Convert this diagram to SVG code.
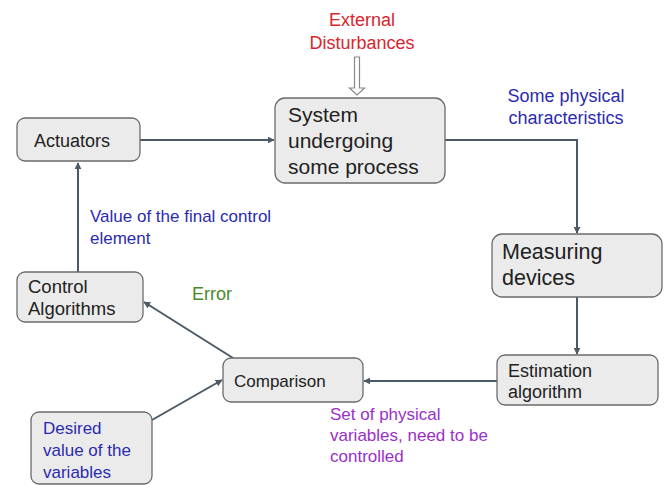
<svg xmlns="http://www.w3.org/2000/svg" width="665" height="485" viewBox="0 0 665 485">
<style>
.box{fill:#ebebeb;stroke:#6b6b6b;stroke-width:1.3}
.t{font-family:"Liberation Sans",Arial,sans-serif;fill:#222}
.c{stroke:#4c5966;stroke-width:2;fill:none;marker-end:url(#ah)}
.blue{fill:#2b2bb0}
</style>
<defs>
<marker id="ah" viewBox="0 0 10 10" refX="9" refY="5" markerWidth="7" markerHeight="7" markerUnits="userSpaceOnUse" orient="auto"><path d="M0,0 L10,5 L0,10 z" fill="#4c5966"/></marker>
</defs>
<rect width="665" height="485" fill="#fff"/>
<g id="connectors">
<path class="c" d="M140,140 H274"/>
<path class="c" d="M445,140 H577 V233"/>
<path class="c" d="M577,297 V354"/>
<path class="c" d="M497,381 H364"/>
<path class="c" d="M152,420 L222,380"/>
<path class="c" d="M233,358 L144,302"/>
<path class="c" d="M78,272 V163"/>
<path d="M354.5,57 H359.5 V88 H364.5 L357,95 L349.5,88 H354.5 Z" fill="#fff" stroke="#888" stroke-width="1.2"/>
</g>
<g id="external">
<text class="t" x="362" y="26" font-size="18" style="fill:#d8262e" text-anchor="middle">External</text>
<text class="t" x="362" y="49" font-size="18" style="fill:#d8262e" text-anchor="middle">Disturbances</text>
</g>
<g id="actuators">
<rect class="box" x="17" y="118" width="123" height="43" rx="8"/>
<text class="t" x="34" y="147" font-size="18">Actuators</text>
</g>
<g id="system">
<rect class="box" x="275" y="98" width="170" height="85" rx="10"/>
<text class="t" x="288" y="122" font-size="21">System</text>
<text class="t" x="288" y="148" font-size="21">undergoing</text>
<text class="t" x="288" y="174" font-size="21">some process</text>
</g>
<g id="physical">
<text class="t blue" x="566" y="102" font-size="18" text-anchor="middle">Some physical</text>
<text class="t blue" x="566" y="124" font-size="18" text-anchor="middle">characteristics</text>
</g>
<g id="measuring">
<rect class="box" x="492" y="234" width="170" height="63" rx="10"/>
<text class="t" x="502" y="259" font-size="21.5">Measuring</text>
<text class="t" x="502" y="285" font-size="21.5">devices</text>
</g>
<g id="estimation">
<rect class="box" x="497" y="355" width="161" height="50" rx="8"/>
<text class="t" x="508" y="377" font-size="18">Estimation</text>
<text class="t" x="508" y="398" font-size="18">algorithm</text>
</g>
<g id="comparison">
<rect class="box" x="223" y="358" width="140" height="44" rx="8"/>
<text class="t" x="234" y="387" font-size="17">Comparison</text>
</g>
<g id="setlabel">
<text class="t" x="330" y="420" font-size="17" style="fill:#9a30c8">Set of physical</text>
<text class="t" x="330" y="441" font-size="17" style="fill:#9a30c8">variables, need to be</text>
<text class="t" x="330" y="462" font-size="17" style="fill:#9a30c8">controlled</text>
</g>
<g id="desired">
<rect class="box" x="31" y="412" width="121" height="72" rx="8"/>
<text class="t blue" x="43" y="434" font-size="17">Desired</text>
<text class="t blue" x="43" y="456" font-size="17">value of the</text>
<text class="t blue" x="43" y="478" font-size="17">variables</text>
</g>
<g id="control">
<rect class="box" x="17" y="272" width="126" height="50" rx="8"/>
<text class="t" x="28" y="293" font-size="18.5">Control</text>
<text class="t" x="28" y="315" font-size="18.5">Algorithms</text>
</g>
<g id="valuelabel">
<text class="t blue" x="90" y="222" font-size="17">Value of the final control</text>
<text class="t blue" x="90" y="244" font-size="17">element</text>
</g>
<g id="error">
<text class="t" x="192" y="300" font-size="18" style="fill:#4a8a2a">Error</text>
</g>
</svg>
